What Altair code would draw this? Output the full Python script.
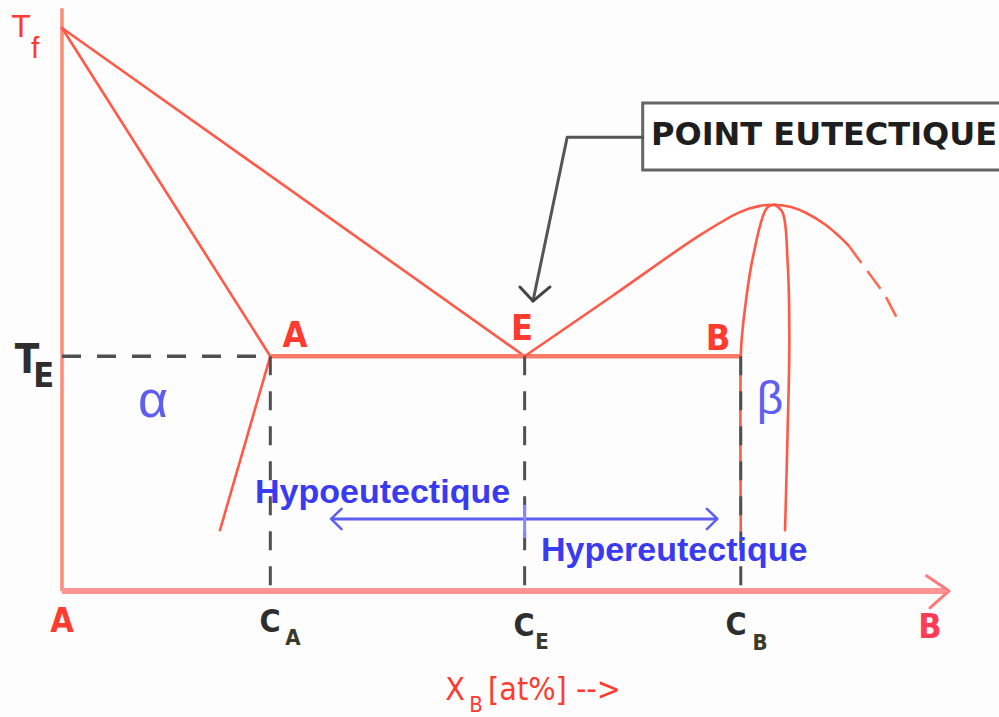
import altair as alt
import pandas as pd

# ---------------------------------------------------------------------------
# Binary eutectic phase diagram A-B (schematic)
# x: composition X_B in at%, y: temperature (arbitrary units)
# ---------------------------------------------------------------------------
X_DOMAIN = [-7.143, 107.95]
Y_DOMAIN = [-223.8, 1049.7]

T_F = 1000      # melting point of pure A
T_E = 417       # eutectic temperature
C_A = 24.0      # max solubility of B in alpha
C_E = 53.3      # eutectic composition
C_B = 78.2      # beta phase limit at T_E

# liquidus and solidus of the A-rich side
liq_left_x = [0, C_E]
liq_left_y = [T_F, T_E]
sol_left_x = [0, C_A]
sol_left_y = [T_F, T_E]
solvus_left_x = [C_A, 18.2]
solvus_left_y = [T_E, 108]

# liquidus of the B-rich side (congruent maximum of beta)
liq_right_x = [C_E, 63.4, 73.5, 78.1, 80.4, 82.1, 84.0, 85.8, 88.0, 89.6, 90.6]
liq_right_y = [T_E, 524, 632, 673, 684, 686, 682, 671, 650, 629, 614]
liq_ext_x = [90.6, 92.7, 94.8, 96.5]
liq_ext_y = [614, 570, 526, 476]

# beta phase boundaries
beta_left_x = [82.1, 81.2, 79.6, 78.7, 78.3, C_B, C_B]
beta_left_y = [686, 680, 593, 504, 446, T_E, 108]
beta_right_x = [82.1, 83.0, 83.6, 83.8, 83.6, 83.3]
beta_right_y = [686, 673, 583, 446, 286, 108]

# frame of the diagram
y_axis_top = 1035
x_axis_end = 101.8
arrow_x = [99.6, 102.2, 100.0]
arrow_y = [27, 0, -30]

# composition markers
markers_x = [C_A, C_E, C_B]

# hypo / hyper eutectic double arrow
span_x = [31.0, 75.5]
span_y = 128
span_left_head_x = [32.2, 31.0, 32.2]
span_right_head_x = [74.3, 75.5, 74.3]
span_head_y = [146, 128, 110]
span_tick_y = [153, 94]

# callout box and leader
box_x = [66.9, 112.0]
box_y = [866.8, 747.8]
leader_x = [66.9, 58.2, 54.26]
leader_y = [806, 806, 515]
leader_head_x = [52.76, 54.26, 56.22]
leader_head_y = [540, 515, 540]

RED = "#ff5a48"
RED_TXT = "#ff3b30"
BLUE = "#3a3af0"
BLUE_LIGHT = "#5e5ef0"
DARK = "#505050"
NARROW = "Liberation Sans Narrow, DejaVu Sans Condensed, Liberation Sans"
SANS = "Liberation Sans, Arial, sans-serif"

X = alt.X("x:Q", scale=alt.Scale(domain=X_DOMAIN, nice=False, zero=False), axis=None)
Y = alt.Y("y:Q", scale=alt.Scale(domain=Y_DOMAIN, nice=False, zero=False), axis=None)


def path(xs, ys, color, width, dash=None, interp="linear"):
    df = pd.DataFrame({"x": xs, "y": ys, "o": list(range(len(xs)))})
    kw = dict(color=color, strokeWidth=width, interpolate=interp,
              strokeCap="round", strokeJoin="round")
    if dash:
        kw["strokeDash"] = dash
        kw["strokeCap"] = "butt"
    return alt.Chart(df).mark_line(**kw).encode(x=X, y=Y, order="o:Q")


def segments(x1, x2, y1, y2, color, width, dash=None):
    df = pd.DataFrame({"x": x1, "x2": x2, "y": y1, "y2": y2})
    kw = dict(color=color, strokeWidth=width)
    if dash:
        kw["strokeDash"] = dash
    return alt.Chart(df).mark_rule(**kw).encode(
        x=X, x2=alt.X2("x2:Q"), y=Y, y2=alt.Y2("y2:Q"))


def label(xs, ys, texts, size, color, font=SANS, weight="normal", align="center"):
    df = pd.DataFrame({"x": xs, "y": ys, "t": texts})
    return alt.Chart(df).mark_text(
        fontSize=size, color=color, font=font, fontWeight=weight,
        align=align, baseline="alphabetic").encode(x=X, y=Y, text="t:N")


layers = [
    # axes
    segments([0], [0], [0], [y_axis_top], "#ff8a78", 3.5),
    segments([0], [x_axis_end], [0], [0], "#ff9494", 6),
    path(arrow_x, arrow_y, "#ff7a7a", 3),
    # phase boundaries
    path(liq_left_x, liq_left_y, RED, 2.6),
    path(sol_left_x, sol_left_y, RED, 2.6),
    path(solvus_left_x, solvus_left_y, RED, 2.6),
    segments([C_A], [C_B], [T_E], [T_E], "#ff7a68", 4.5),
    path(liq_right_x, liq_right_y, RED, 2.6, interp="catmull-rom"),
    path(liq_ext_x, liq_ext_y, "#ff6a50", 2.6, dash=[22, 10]),
    path(beta_left_x, beta_left_y, RED, 2.6, interp="catmull-rom"),
    path(beta_right_x, beta_right_y, RED, 2.6, interp="catmull-rom"),
    # dashed guides for T_E and the compositions
    segments([0], [C_A], [T_E], [T_E], DARK, 3.5, dash=[19, 16]),
    segments(markers_x, markers_x, [T_E] * 3, [0] * 3, DARK, 3, dash=[19, 16]),
    # hypo / hyper eutectic span
    segments([span_x[0]], [span_x[1]], [span_y], [span_y], BLUE_LIGHT, 3),
    path(span_left_head_x, span_head_y, BLUE_LIGHT, 2.5),
    path(span_right_head_x, span_head_y, BLUE_LIGHT, 2.5),
    segments([C_E], [C_E], [span_tick_y[0]], [span_tick_y[1]], "#8a8af2", 3),
    # callout
    alt.Chart(pd.DataFrame({"x": [box_x[0]], "x2": [box_x[1]],
                            "y": [box_y[0]], "y2": [box_y[1]]}))
    .mark_rect(fill="#ffffff", stroke="#666666", strokeWidth=3, clip=True)
    .encode(x=X, x2=alt.X2("x2:Q"), y=Y, y2=alt.Y2("y2:Q")),
    path(leader_x, leader_y, "#555555", 3),
    path(leader_head_x, leader_head_y, "#444444", 3),
    label([67.86], [792.2], ["POINT EUTECTIQUE"], 32, "#1e1e1e",
          font="DejaVu Sans", weight="bold", align="left"),
    # temperature labels
    label([-4.72], [984], ["T"], 32, RED_TXT),
    label([-3.1], [946], ["f"], 30, RED_TXT),
    label([-4.03], [387.2], ["T"], 40, "#2e2e2e", font=NARROW, weight="bold"),
    label([-2.1], [363], ["E"], 34, "#2e2e2e", font=NARROW, weight="bold"),
    # point labels
    label([26.84, 53.0, 75.58], [433.4, 445.8, 428.1], ["A", "E", "B"], 36,
          RED_TXT, font=NARROW, weight="bold"),
    # phase names
    label([10.48], [309], ["α"], 52, BLUE_LIGHT),
    label([81.57], [314.4], ["β"], 46, BLUE_LIGHT),
    label([22.24], [156.3], ["Hypoeutectique"], 34, BLUE, weight="bold", align="left"),
    label([55.18], [53.3], ["Hypereutectique"], 34, BLUE, weight="bold", align="left"),
    # composition axis labels
    label([0], [-72.8], ["A"], 34, RED_TXT, font=NARROW, weight="bold"),
    label([100], [-83.5], ["B"], 34, "#ff3c58", font=NARROW, weight="bold"),
    label([23.96, 53.23, 77.65], [-72.8, -79.9, -78.2], ["C", "C", "C"], 32,
          "#2e2e2e", font=NARROW, weight="bold"),
    label([26.61, 55.3, 80.41], [-95.9, -103.0, -104.8], ["A", "E", "B"], 22,
          "#3a3a2a", font=NARROW, weight="bold"),
    label([45.28], [-193.6], ["X"], 32, RED_TXT, font=NARROW),
    label([47.7], [-215.0], ["B"], 22, RED_TXT, font=NARROW),
    label([49.08], [-193.6], ["[at%] -->"], 32, RED_TXT, font=NARROW, align="left"),
]

chart = (
    alt.layer(*layers)
    .properties(width=999, height=717, padding=0,
                autosize=alt.AutoSizeParams(type="none"),
                background="#fcfdfc")
    .configure_view(strokeWidth=0)
)

chart.save("out.html", embed_options={"renderer": "svg", "actions": False})
